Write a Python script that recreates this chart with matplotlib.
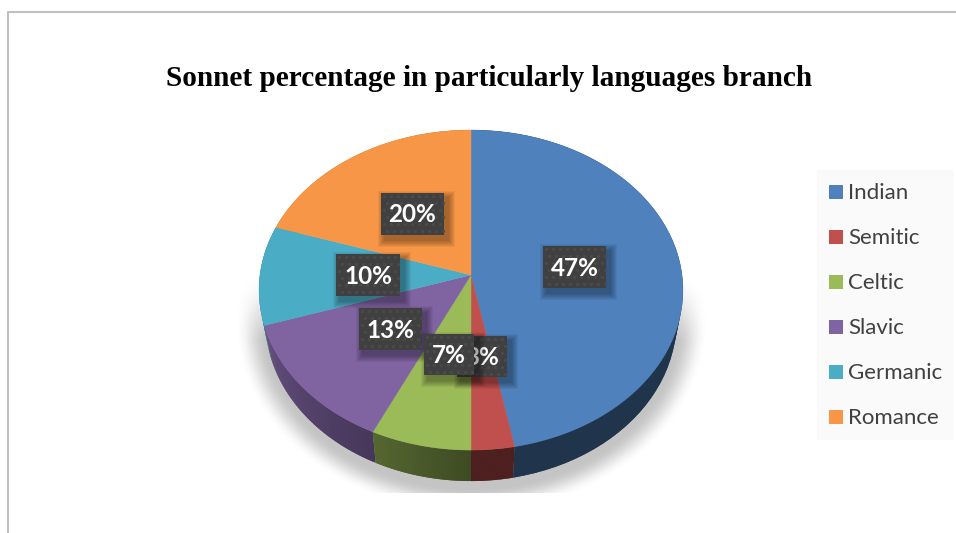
import numpy as np
import matplotlib
matplotlib.use('Agg')
import matplotlib.pyplot as plt
from matplotlib.patches import Rectangle

title = 'Sonnet percentage in particularly languages branch'
branches = ['Indian', 'Semitic', 'Celtic', 'Slavic', 'Germanic', 'Romance']
shares = [47, 3, 7, 13, 10, 20]
colors = ['#4f81bd', '#c0504d', '#9bbb59', '#8064a2', '#4bacc6', '#f79646']

# label box centres in pixels, same order as branches
label_boxes = [(574.5, 267), (482, 356.5), (449, 354.5), (390.5, 329), (368, 275), (412.5, 214)]
label_sizes = [(63, 42), (50, 41), (50, 41), (63, 42), (64, 42), (63, 42)]
draw_order = [0, 5, 4, 3, 1, 2]

APEX_X, APEX_Y = 471, 275
RX, RY, TILT = 211, 158.6, 0.094
DEPTH = 31
BOTTOM_SCALE = 0.97


def rim(theta):
    # perspective projection of the pie's circle, theta clockwise from the top
    u, v = np.sin(theta), np.cos(theta)
    d = 1 + TILT * v
    return APEX_X + RX * u / d, APEX_Y - RY * v / d


def side_shade(theta):
    deg = np.degrees(theta)
    return np.interp(deg, [0, 180, 205, 252, 360], [0.40, 0.40, 0.55, 0.78, 0.80])


def draw_ground_shadow(ax):
    xx, yy = np.meshgrid(np.arange(225, 720), np.arange(270, 493))
    r = np.sqrt(((xx - 471) / 236) ** 2 + ((yy - 322) / 190) ** 2)
    edge = np.clip((1 - r) / 0.13, 0, 1)
    top = np.clip((yy - 280) / 60, 0, 1)
    alpha = edge * edge * (3 - 2 * edge) * top
    rgba = np.zeros(xx.shape + (4,))
    rgba[..., :3] = 0.77
    rgba[..., 3] = alpha
    ax.imshow(rgba, extent=(225, 720, 493, 270), zorder=1, interpolation='bilinear', aspect='auto')


def draw_label(ax, text, cx, cy, w, h, z):
    x0, y0 = cx - w / 2, cy - h / 2
    # soft drop shadow from stacked translucent boxes
    for grow in range(7, 0, -1):
        ax.add_patch(Rectangle((x0 + 4 - grow, y0 + 5 - grow), w + 2 * grow, h + 2 * grow,
                               fc='black', ec='none', alpha=0.05, zorder=z))
    ax.add_patch(Rectangle((x0, y0), w, h, fc='#404040', ec='none', zorder=z))
    dot_x, dot_y = [], []
    for row, y in enumerate(np.arange(y0 + 3, y0 + h, 7)):
        for x in np.arange(x0 + 3 + 3.5 * (row % 2), x0 + w, 7):
            dot_x.append(x)
            dot_y.append(y)
    ax.scatter(dot_x, dot_y, s=5, c='#4a4a4a', linewidths=0, zorder=z)
    ax.text(cx, cy + 1, text, color='white', ha='center', va='center', fontsize=17.5,
            fontweight='bold', family='Lato', zorder=z)


fig = plt.figure(figsize=(9.56, 5.33), dpi=100)
ax = fig.add_axes([0, 0, 1, 1])
ax.set_xlim(0, 956)
ax.set_ylim(533, 0)
ax.axis('off')

# page frame
ax.plot([8, 8, 956], [533, 12, 12], color='#c0c0c0', lw=1.5, zorder=1)

ax.text(489.5, 79, title, ha='center', va='center', fontsize=21.1, fontweight='bold',
        family='Liberation Serif', color='black')

draw_ground_shadow(ax)

# turn shares into slice boundaries, clockwise from 12 o'clock
edges = np.concatenate(([0], np.cumsum(shares))) / sum(shares) * 2 * np.pi

# side wall first, the top face covers its hidden part
for i in range(len(shares)):
    t = np.linspace(edges[i], edges[i + 1], 60)
    base = np.array(matplotlib.colors.to_rgb(colors[i]))
    x, y = rim(t)
    low_x = APEX_X + (x - APEX_X) * BOTTOM_SCALE
    low_y = y + DEPTH
    # strips overlap by one step so no seams show between them
    for k in range(len(t) - 1):
        end = min(k + 2, len(t) - 1)
        c = base * side_shade(t[k])
        ax.fill([x[k], x[end], low_x[end], low_x[k]],
                [y[k], y[end], low_y[end], low_y[k]],
                color=c, lw=0, zorder=2 + k * 1e-3)

# top face
for i in range(len(shares)):
    t = np.linspace(edges[i], edges[i + 1], 120)
    x, y = rim(t)
    ax.fill(np.r_[APEX_X, x], np.r_[APEX_Y, y], color=colors[i], lw=0.3, zorder=3)

# value labels, overlapping in this order
for n, i in enumerate(draw_order):
    cx, cy = label_boxes[i]
    w, h = label_sizes[i]
    draw_label(ax, f'{shares[i]}%', cx, cy, w, h, 5 + n)

# legend
ax.add_patch(Rectangle((817, 170), 137, 270, fc='#fafafa', ec='none', zorder=1))
for i, name in enumerate(branches):
    y = 192 + 45 * i
    ax.add_patch(Rectangle((829, y - 7), 14, 14, fc=colors[i], ec='none', zorder=2))
    ax.text(848.5, y + 1, name, color='#404040', ha='left', va='center', fontsize=16,
            family='Lato', zorder=2)

fig.savefig('out.png', dpi=100)
